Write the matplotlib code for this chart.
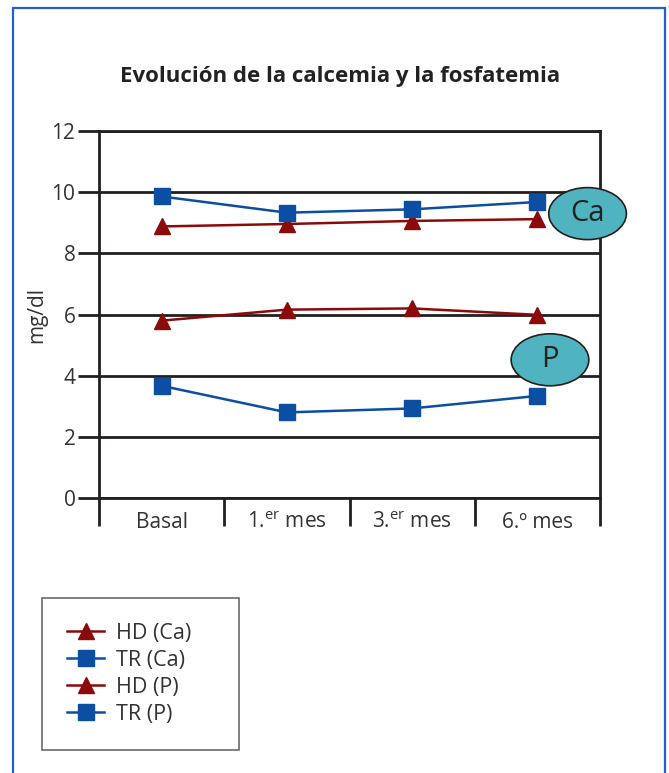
import matplotlib.pyplot as plt
from matplotlib.patches import Ellipse, Rectangle

plt.rcParams['font.family'] = ['Open Sans', 'DejaVu Sans']
plt.rcParams['mathtext.fontset'] = 'custom'
plt.rcParams['mathtext.rm'] = 'Open Sans'
plt.rcParams['mathtext.it'] = 'Open Sans'

months = ['Basal', r'1.$^{\mathrm{er}}$ mes', r'3.$^{\mathrm{er}}$ mes', '6.º mes']
hd_ca = [8.88, 8.96, 9.06, 9.12]
tr_ca = [9.86, 9.33, 9.44, 9.68]
hd_p = [5.8, 6.16, 6.2, 5.99]
tr_p = [3.67, 2.8, 2.93, 3.34]

red = '#8b0a0a'
blue = '#0b4ea2'
dark = '#231f20'
teal = '#4fb4bf'

fig = plt.figure(figsize=(6.69, 7.73), dpi=100)
ax = fig.add_axes([0.148, 0.3557, 0.749, 0.4748])

x = range(len(months))
ax.plot(x, hd_ca, color=red, lw=1.8, marker='^', ms=11, label='HD (Ca)', zorder=3)
ax.plot(x, tr_ca, color=blue, lw=1.8, marker='s', ms=11, label='TR (Ca)', zorder=3)
ax.plot(x, hd_p, color=red, lw=1.8, marker='^', ms=11, label='HD (P)', zorder=3)
ax.plot(x, tr_p, color=blue, lw=1.8, marker='s', ms=11, label='TR (P)', zorder=3)

ax.set_xlim(-0.5, 3.5)
ax.set_ylim(0, 12)
ax.set_yticks(range(0, 13, 2))
ax.yaxis.grid(True, color=dark, lw=2)
ax.set_axisbelow(True)

ax.set_xticks([i - 0.5 for i in range(5)])
ax.set_xticklabels([])
ax.set_xticks(list(x), minor=True)
ax.set_xticklabels(months, minor=True)
ax.tick_params(axis='x', which='major', direction='out', length=20, width=2, color=dark)
ax.tick_params(axis='x', which='minor', length=0, pad=10, labelsize=15, labelcolor='#333333')
ax.tick_params(axis='y', length=15, width=2, color=dark, labelsize=15, labelcolor='#333333', pad=2)

for s in ax.spines.values():
    s.set_color(dark)
    s.set_linewidth(2)

ax.set_ylabel('mg/dl', fontsize=15, color='#333333', labelpad=3)

fig.text(0.508, 0.901, 'Evolución de la calcemia y la fosfatemia', ha='center', va='center',
         fontsize=16, fontweight='bold', color='#222222')

for xc, yc, txt in [(3.4, 9.3, 'Ca'), (3.1, 4.52, 'P')]:
    e = Ellipse((xc, yc), 0.62, 1.7, facecolor=teal, edgecolor=dark, lw=1.2, clip_on=False, zorder=5)
    ax.add_patch(e)
    ax.text(xc, yc, txt, ha='center', va='center', fontsize=21, color='#222222', zorder=6, clip_on=False)

leg = fig.legend(loc='upper left', bbox_to_anchor=(42 / 669, 28 / 773, 197 / 669, 147 / 773),
                 bbox_transform=fig.transFigure, mode='expand',
                 fontsize=15.5, frameon=True, fancybox=False, edgecolor='#444444', handlelength=1.75,
                 borderpad=1.15, labelspacing=0.28, handletextpad=0.55, borderaxespad=0)
leg.get_frame().set_linewidth(1.2)
for t in leg.get_texts():
    t.set_color('#333333')

fig.patches.append(Rectangle((0.0195, -0.01), 0.9745, 0.9998, transform=fig.transFigure,
                             fill=False, edgecolor='#1f63c6', lw=1.6))

fig.savefig('out.png', dpi=100)
